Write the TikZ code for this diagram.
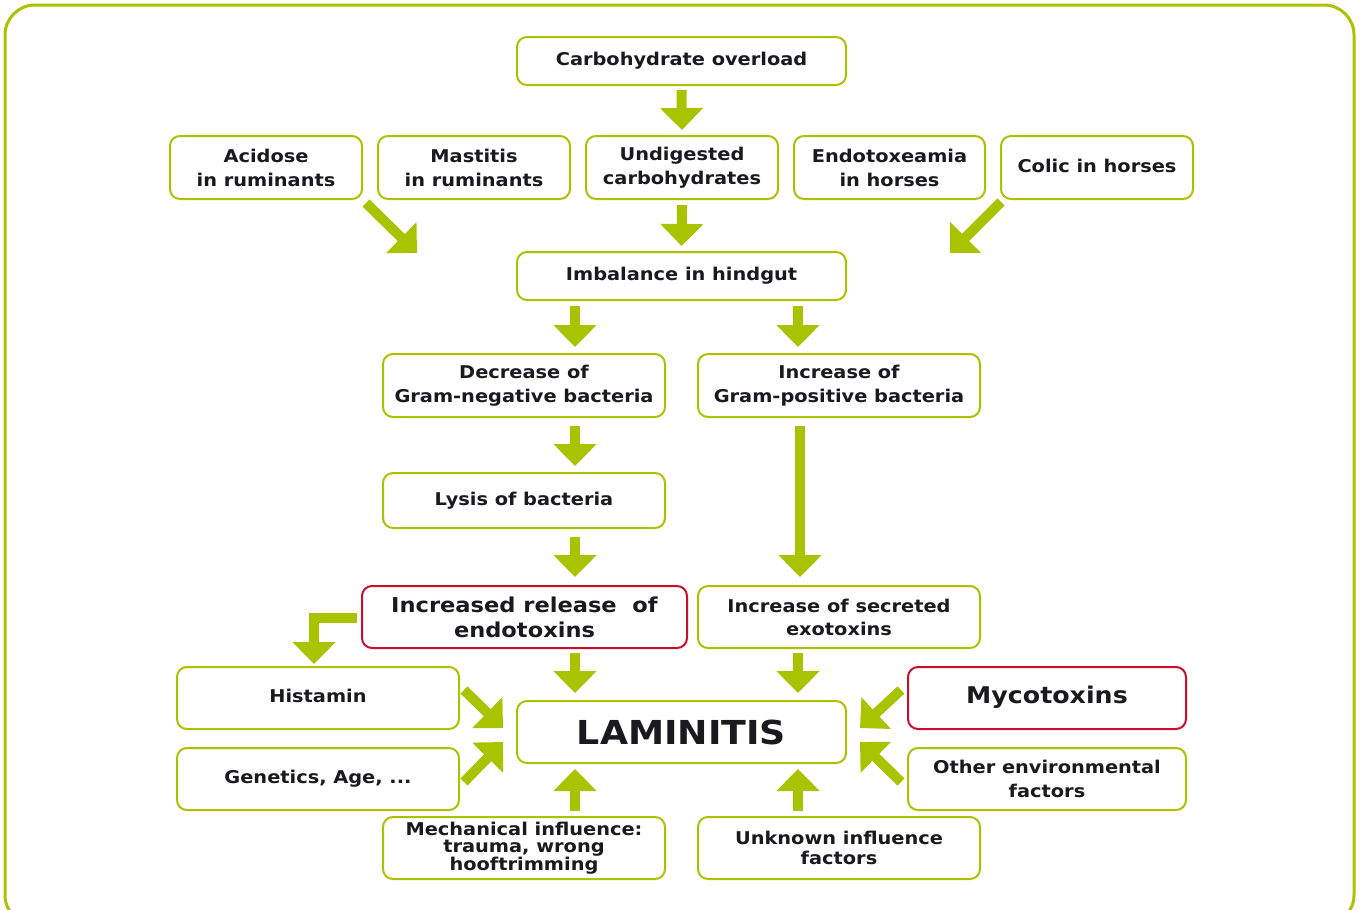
\documentclass[tikz,border=0pt]{standalone}
\usepackage{fontspec}
\newfontfamily\bx{DejaVu Sans Bold}[FakeStretch=1.1]
\usetikzlibrary{arrows.meta}
\definecolor{lgreen}{RGB}{168,196,0}
\definecolor{lred}{RGB}{200,16,46}
\definecolor{txt}{RGB}{26,26,30}
\tikzset{
  box/.style={draw=lgreen, line width=2pt, rounded corners=10pt, fill=white,
    inner sep=0pt, align=center, text=txt,
    font=\bx\fontsize{17.6}{24}\selectfont},
  redbox/.style={box, draw=lred},
  fat/.style={draw=lgreen, line width=10pt, line cap=butt, miter limit=10,
    -{Triangle[length=22pt,width=42pt]}},
}
\begin{document}
\begin{tikzpicture}[x=1pt,y=-1pt]
\useasboundingbox (0,0) rectangle (1360,910);
\draw[lgreen, line width=3pt, rounded corners=30pt] (5,5) rectangle (1354,925);

% row 1
\node[box, minimum width=329pt, minimum height=48pt] (carb) at (681.5,61) {\strut Carbohydrate overload};
% row 2
\node[box, minimum width=192pt, minimum height=63pt] (acid) at (266,167.5) {Acidose\\in ruminants};
\node[box, minimum width=192pt, minimum height=63pt] (mast) at (474,167.5) {Mastitis\\in ruminants};
\node[box, minimum width=192pt, minimum height=63pt] (undig) at (682,167.5) {Undigested\\carbohydrates};
\node[box, minimum width=191pt, minimum height=63pt] (endo) at (889.5,167.5) {Endotoxeamia\\in horses};
\node[box, minimum width=192pt, minimum height=63pt] (colic) at (1097,167.5) {\strut Colic in horses};
% row 3
\node[box, minimum width=329pt, minimum height=48pt] (imb) at (681.5,276) {\strut Imbalance in hindgut};
% row 4
\node[box, minimum width=282pt, minimum height=63pt] (dec) at (524,385.5) {Decrease of\\Gram-negative bacteria};
\node[box, minimum width=282pt, minimum height=63pt] (inc) at (839,385.5) {Increase of\\Gram-positive bacteria};
% row 5
\node[box, minimum width=282pt, minimum height=55pt] (lysis) at (524,500.5) {\strut Lysis of bacteria};
% row 6
\node[redbox, minimum width=325pt, minimum height=62pt, font=\bx\fontsize{20.5}{25}\selectfont] (rel) at (524.5,617) {Increased release\ \ of\\endotoxins};
\node[box, minimum width=282pt, minimum height=62pt, font=\bx\fontsize{17.6}{23}\selectfont] (exo) at (839,617) {Increase of secreted\\exotoxins};
% row 7
\node[box, minimum width=282pt, minimum height=62pt] (hist) at (318,698) {\strut Histamin};
\node[box, minimum width=282pt, minimum height=62pt] (gen) at (318,779) {\strut Genetics, Age, ...};
\node[box, minimum width=329pt, minimum height=62pt, font=\bx\fontsize{33}{36}\selectfont] (lam) at (681.5,732) {LAMINITIS};
\node[redbox, minimum width=278pt, minimum height=62pt, font=\bx\fontsize{23}{26}\selectfont] (myco) at (1047,698) {\strut Mycotoxins};
\node[box, minimum width=278pt, minimum height=62pt] (other) at (1047,779) {Other environmental\\factors};
% row 8
\node[box, minimum width=282pt, minimum height=62pt, font=\bx\fontsize{17.6}{17}\selectfont] (mech) at (524,848) {Mechanical influence:\\trauma, wrong\\hooftrimming};
\node[box, minimum width=282pt, minimum height=62pt, font=\bx\fontsize{17.6}{20}\selectfont] (unk) at (839,848) {Unknown influence\\factors};

% free arrow tips
\coordinate (tA) at (417,253);
\coordinate (tC) at (950,253);
\coordinate (tH) at (503,728);
\coordinate (tG) at (503,742);
\coordinate (tM) at (860,728);
\coordinate (tO) at (860,742);

% arrows
\draw[fat] ([yshift=-4pt]carb.south) -- ([yshift=5pt]undig.north);
\draw[fat] ([yshift=-5pt]undig.south) -- ([yshift=5pt]imb.north);
\draw[fat] ([shift={(3pt,-3pt)}]acid.south east) -- (tA);
\draw[fat] ([shift={(1pt,-2pt)}]colic.south west) -- (tC);
\draw[fat] ([xshift=51pt,yshift=-5pt]dec.north |- imb.south) -- ([xshift=51pt,yshift=6pt]dec.north);
\draw[fat] ([xshift=-41pt,yshift=-5pt]inc.north |- imb.south) -- ([xshift=-41pt,yshift=6pt]inc.north);
\draw[fat] ([xshift=51pt,yshift=-8pt]dec.south) -- ([xshift=51pt,yshift=6pt]lysis.north);
\draw[fat] ([xshift=51pt,yshift=-8pt]lysis.south) -- ([xshift=50.5pt,yshift=8pt]rel.north);
\draw[fat] ([xshift=-39pt,yshift=-8pt]inc.south) -- ([xshift=-39pt,yshift=8pt]exo.north);
\draw[fat] ([xshift=50.5pt,yshift=-4pt]rel.south) -- ([xshift=-106.5pt,yshift=7pt]lam.north);
\draw[fat] ([xshift=-41pt,yshift=-4pt]exo.south) -- ([xshift=116.5pt,yshift=7pt]lam.north);
\draw[fat] ([shift={(-4pt,-1pt)}]rel.west) -| ([xshift=-4pt,yshift=2pt]hist.north);
\draw[fat] ([shift={(4pt,8pt)}]hist.east) -- (tH);
\draw[fat] ([shift={(4pt,-3pt)}]gen.east) -- (tG);
\draw[fat] ([shift={(-6pt,8pt)}]myco.west) -- (tM);
\draw[fat] ([shift={(-6pt,-3pt)}]other.west) -- (tO);
\draw[fat] ([xshift=51pt,yshift=5pt]mech.north) -- ([xshift=-106.5pt,yshift=-5pt]lam.south);
\draw[fat] ([xshift=-41pt,yshift=5pt]unk.north) -- ([xshift=116.5pt,yshift=-5pt]lam.south);
\end{tikzpicture}
\end{document}
